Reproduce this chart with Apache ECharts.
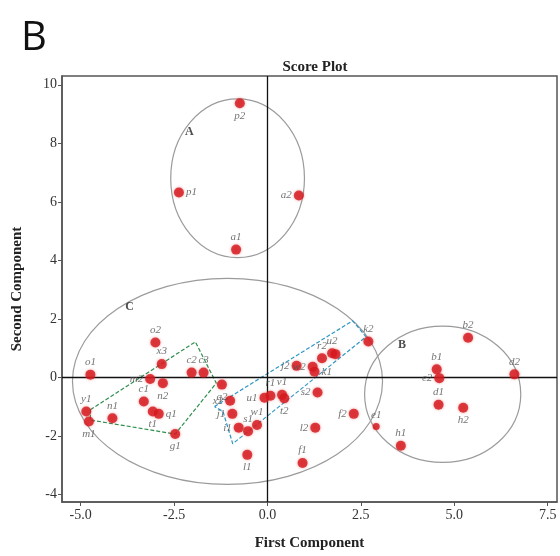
<!DOCTYPE html>
<html><head><meta charset="utf-8">
<script src="https://cdn.jsdelivr.net/npm/echarts@6/dist/echarts.min.js"></script>
<style>html,body{margin:0;padding:0;background:#fff}#c{width:560px;height:556px}</style>
</head><body><div id="c"></div>
<script>
const xTicks = [-5, -2.5, 0, 2.5, 5, 7.5];
const yTicks = [-4, -2, 0, 2, 4, 6, 8, 10];

const pointNames = ['p2','p1','a2','a1',
  'o2','x3','m2','n2','c2','c3','q2','o1','c1','t1','q1','y1','m1','n1','g1',
  'x2','j1','i1','s1','w1','l1','u1','r1','v1','t2','j2','r2','u2','v2','w2','k1','s2','l2','f2','f1','k2','e1',
  'b2','b1','e2','d2','d1','h2','h1'];
const pointX = [-0.74,-2.37,0.84,-0.84,
  -3.00,-2.83,-3.14,-2.80,-2.03,-1.71,-1.22,-4.74,-3.31,-3.07,-2.91,-4.85,-4.78,-4.15,-2.47,
  -1.00,-0.94,-0.77,-0.52,-0.28,-0.54,-0.08,0.08,0.39,0.45,0.78,1.46,1.73,1.82,1.21,1.26,1.34,1.28,2.31,0.94,2.70,2.91,
  5.37,4.53,4.60,6.61,4.58,5.24,3.57];
const pointY = [9.37,6.32,6.22,4.37,
  1.20,0.46,-0.05,-0.19,0.17,0.17,-0.24,0.10,-0.82,-1.16,-1.24,-1.16,-1.50,-1.39,-1.93,
  -0.79,-1.24,-1.71,-1.83,-1.62,-2.64,-0.69,-0.62,-0.59,-0.71,0.40,0.66,0.83,0.80,0.37,0.20,-0.51,-1.71,-1.24,-2.92,1.23,-1.67,
  1.36,0.28,-0.02,0.11,-0.93,-1.03,-2.33];

const groupNames = ['A','B','C'];
const groupCx = [-0.80, 4.69, -1.07];
const groupCy = [6.81, -0.57, -0.13];
const groupRx = [1.79, 2.09, 4.15];
const groupRy = [2.71, 2.33, 3.52];
const groupLabelX = [-2.09, 3.60, -3.69];
const groupLabelY = [8.38, 1.13, 2.42];

const greenX = [-4.74, -1.93, -1.37, -2.47, -4.74, -4.74];
const greenY = [-1.10, 1.22, -0.19, -1.93, -1.45, -1.10];
const blueX = [-1.42, 2.28, 2.64, -0.93, -1.19, -1.42];
const blueY = [-0.99, 1.94, 1.39, -2.26, -1.16, -0.99];

// label placement (style only)
const labelPos = {p2:'bottom',p1:'right',a2:'left',a1:'top',o2:'top',x3:'top',m2:'left',n2:'bottom',
  c2:'top',c3:'top',q2:'bottom',o1:'top',c1:'top',t1:'bottom',q1:'right',y1:'top',m1:'bottom',n1:'top',g1:'bottom',
  x2:'left',j1:'left',i1:'left',s1:'top',w1:'top',l1:'bottom',u1:'left',r1:'top',v1:'top',t2:'bottom',j2:'left',
  r2:'top',u2:'top',v2:'inside',w2:'left',k1:'right',s2:'left',l2:'left',f2:'left',f1:'top',k2:'top',e1:'top',
  b2:'top',b1:'top',e2:'left',d2:'top',d1:'top',h2:'bottom',h1:'top'};
const smallPoints = ['e1'];

const serif = '"Liberation Serif","DejaVu Serif",serif';
const pts = pointNames.map((n,i)=>({
  name:n, value:[pointX[i],pointY[i]],
  symbolSize: smallPoints.includes(n)?7:10,
  label:{show: n!=='v2', position: labelPos[n], distance:2}
}));

const chart = echarts.init(document.getElementById('c'));
chart.setOption({
  animation:false,
  backgroundColor:'#fff',
  title:[
    {text:'B', left:16, top:14, textStyle:{fontFamily:'"Open Sans","Liberation Sans",sans-serif', fontSize:40, fontWeight:'normal', color:'#111'}},
    {text:'Score Plot', left:310, top:55, textAlign:'center', textStyle:{fontFamily:serif, fontSize:15, fontWeight:'bold', color:'#222'}}
  ],
  grid:{left:62, right:3, top:76, bottom:54, show:true, borderColor:'#555', borderWidth:1.5},
  xAxis:{type:'value', min:-5.5, max:7.75,
    name:'First Component', nameLocation:'middle', nameGap:34,
    nameTextStyle:{fontFamily:serif, fontSize:15, fontWeight:'bold', color:'#222'},
    axisLine:{show:true, onZero:false, lineStyle:{color:'#555', width:1.5}},
    axisTick:{show:true, length:4, customValues:xTicks, lineStyle:{color:'#555'}},
    axisLabel:{customValues:xTicks, formatter:v=>v.toFixed(1), fontFamily:serif, fontSize:14, color:'#333', margin:6},
    splitLine:{show:false}},
  yAxis:{type:'value', min:-4.25, max:10.3,
    name:'Second Component', nameLocation:'middle', nameGap:37, nameRotate:90,
    nameTextStyle:{fontFamily:serif, fontSize:15, fontWeight:'bold', color:'#222'},
    axisLine:{show:true, onZero:false, lineStyle:{color:'#555', width:1.5}},
    axisTick:{show:true, length:4, customValues:yTicks, lineStyle:{color:'#555'}},
    axisLabel:{customValues:yTicks, fontFamily:serif, fontSize:14, color:'#333', margin:5},
    splitLine:{show:false}},
  series:[
    {type:'custom', silent:true, z:2,
     data: groupNames.map((g,i)=>[groupCx[i],groupCy[i],groupRx[i],groupRy[i]]),
     renderItem:function(params, api){
       const c = api.coord([api.value(0), api.value(1)]);
       const s = api.size([api.value(2), api.value(3)]);
       return {type:'ellipse', shape:{cx:c[0], cy:c[1], rx:s[0], ry:s[1]},
         style:{fill:'none', stroke:'#9b9b9b', lineWidth:1.2}};
     }},
    {type:'line', silent:true, symbol:'none', z:3,
     data: greenX.map((x,i)=>[x,greenY[i]]),
     lineStyle:{color:'#2f8f4e', width:1.2, type:[4,2]}},
    {type:'line', silent:true, symbol:'none', z:3,
     data: blueX.map((x,i)=>[x,blueY[i]]),
     lineStyle:{color:'#2f96c4', width:1.2, type:[4,2]}},
    {type:'scatter', silent:true, symbolSize:0, z:4,
     data: groupNames.map((g,i)=>({name:g, value:[groupLabelX[i],groupLabelY[i]]})),
     label:{show:true, position:'inside', formatter:'{b}', fontFamily:serif, fontSize:12, fontWeight:'bold', color:'#222'}},
    {type:'scatter', z:5, data:pts,
     itemStyle:{color:'#d3151b', shadowBlur:3, shadowColor:'rgba(230,60,60,0.6)'},
     label:{formatter:'{b}', fontFamily:serif, fontStyle:'italic', fontSize:11, color:'#505050'},
     markLine:{silent:true, symbol:['none','none'], label:{show:false},
       lineStyle:{color:'#111', width:1.3, type:'solid'},
       data:[{xAxis:0},{yAxis:0}]}}
  ]
});
</script></body></html>
